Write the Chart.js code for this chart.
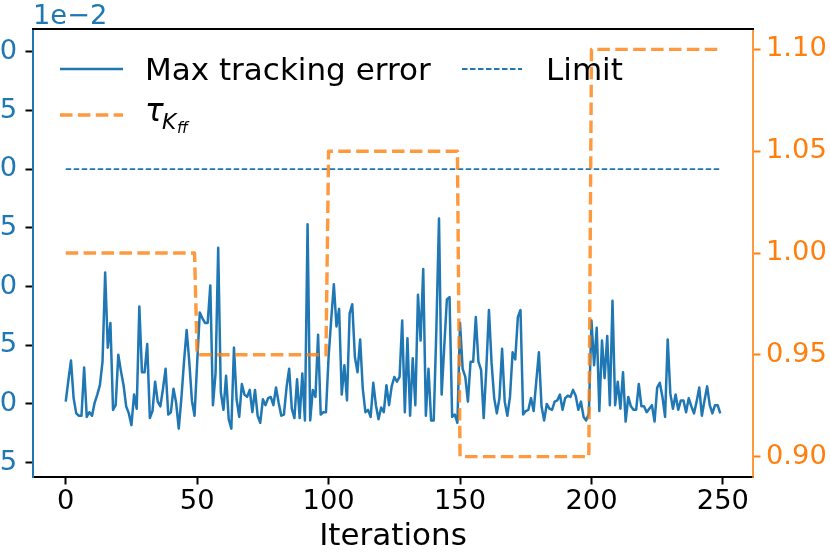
<!DOCTYPE html>
<html>
<head>
<meta charset="utf-8">
<script src="https://cdn.jsdelivr.net/npm/chart.js@4/dist/chart.umd.min.js"></script>
<style>
  html, body { margin: 0; padding: 0; background: #fff; overflow: hidden; }
  #wrap { position: absolute; left: -40px; top: 0; width: 870px; height: 554px; }
</style>
</head>
<body>
<div id="wrap"><canvas id="grafico"></canvas></div>
<script>
// Max tracking error, en unidades de 1e-2 (una muestra por iteración, 0..249)
const maxError = [
  0.02, 0.20, 0.37, 0.05, -0.08, -0.10, -0.10, 0.31, -0.11, -0.07,
  -0.10, 0.01, 0.08, 0.16, 0.36, 1.12, 0.48, 0.69, -0.05, -0.01,
  0.42, 0.28, 0.16, -0.02, -0.08, -0.18, 0.08, -0.04, 0.83, 0.27,
  0.27, 0.51, -0.12, -0.06, 0.19, 0.02, -0.02, 0.13, 0.30, -0.09,
  -0.07, 0.13, 0.01, -0.21, 0.05, 0.36, 0.63, 0.36, 0.03, -0.10,
  0.35, 0.78, 0.73, 0.69, 0.69, 1.01, -0.01, 0.26, 1.33, 0.10,
  -0.05, 0.24, -0.13, -0.21, 0.48, 0.04, -0.11, 0.17, 0.08, 0.06,
  0.12, -0.07, 0.12, -0.10, -0.16, 0.04, -0.01, 0.05, 0.06, -0.01,
  0.14, 0.01, -0.10, -0.09, 0.14, 0.30, -0.04, -0.12, 0.21, -0.12,
  0.26, -0.14, 1.53, -0.14, 0.12, 0.06, 0.59, -0.09, -0.07, -0.07,
  0.40, 0.72, 1.02, 0.66, 0.81, 0.08, 0.33, 0.03, 0.77, 0.85,
  0.40, 0.27, 0.55, 0.13, -0.07, -0.05, -0.11, 0.18, -0.01, -0.13,
  -0.03, -0.07, 0.16, -0.01, 0.15, 0.23, 0.19, 0.23, 0.71, -0.07,
  0.56, -0.10, 0.39, -0.01, 0.93, 0.54, 1.15, -0.10, 0.30, -0.14,
  -0.14, 0.64, 1.58, 0.08, 0.49, 0.89, 0.91, -0.11, -0.09, -0.16,
  0.69, 0.30, 0.23, 0.02, 0.36, 0.36, 0.74, 0.36, 0.29, -0.12,
  0.30, 0.80, 0.35, 0.05, -0.08, 0.05, 0.47, 0.02, -0.10, 0.06,
  0.44, 0.38, 0.74, 0.80, -0.09, -0.06, -0.05, 0.05, -0.06, 0.19,
  0.44, -0.02, -0.14, 0.00, -0.04, -0.05, 0.02, 0.03, 0.08, -0.05,
  0.05, 0.07, 0.06, 0.12, 0.07, -0.05, 0.02, -0.11, -0.14, -0.08,
  0.71, 0.33, 0.65, -0.06, 0.54, 0.22, 0.58, -0.01, 0.88, -0.01,
  0.19, -0.04, 0.27, -0.15, 0.06, -0.02, -0.05, -0.05, 0.17, -0.02,
  -0.02, -0.07, -0.04, -0.01, -0.15, 0.14, 0.18, 0.06, -0.11, 0.55,
  0.09, -0.04, 0.08, -0.05, 0.03, 0.03, -0.07, 0.05, -0.02, -0.08,
  0.02, 0.14, -0.10, 0.03, 0.15, -0.01, -0.08, -0.01, -0.01, -0.08
];
const limitIter = [0, 249];
const limitValues = [2.0, 2.0];
const tauIter = [0, 49, 50, 99, 100, 149, 150, 199, 200, 249];
const tauValues = [1.00, 1.00, 0.95, 0.95, 1.05, 1.05, 0.90, 0.90, 1.10, 1.10];

const xTicks = [0, 50, 100, 150, 200, 250];
const leftTicks = [-0.5, 0, 0.5, 1.0, 1.5, 2.0, 2.5, 3.0];
const rightTicks = [0.90, 0.95, 1.00, 1.05, 1.10];

const AZUL = '#1f77b4';
const NARANJA = '#ff7f0e';
const NARANJA_LINEA = 'rgba(255,127,14,0.8)';
const FUENTE = '"DejaVu Sans"';
const TAM_TICK = 27.3;
const TAM_TEXTO = 31;
const OFF = 40; // el lienzo empieza 40px fuera de la página

const errorPts = maxError.map((v, i) => ({ x: i, y: v }));
const limitPts = limitIter.map((x, i) => ({ x, y: limitValues[i] }));
const tauPts = tauIter.map((x, i) => ({ x, y: tauValues[i] }));

const fijarTicks = lista => scale => { scale.ticks = lista.map(v => ({ value: v })); };

const extras = {
  id: 'extras',
  afterDraw(chart) {
    const ctx = chart.ctx;
    const a = chart.chartArea;
    ctx.save();
    // borde superior
    ctx.strokeStyle = '#000';
    ctx.lineWidth = 2;
    ctx.beginPath();
    ctx.moveTo(a.left - 1, a.top);
    ctx.lineTo(a.right + 1, a.top);
    ctx.stroke();

    // texto del exponente
    ctx.fillStyle = AZUL;
    ctx.font = TAM_TICK + 'px ' + FUENTE;
    ctx.textBaseline = 'alphabetic';
    ctx.textAlign = 'left';
    ctx.fillText('1e\u22122', 33 + OFF, 23.5);

    // leyenda
    ctx.strokeStyle = AZUL;
    ctx.lineWidth = 2.5;
    ctx.setLineDash([]);
    ctx.beginPath();
    ctx.moveTo(60 + OFF, 69); ctx.lineTo(123 + OFF, 69);
    ctx.stroke();

    ctx.lineWidth = 1.8;
    ctx.setLineDash([5.5, 2.5]);
    ctx.beginPath();
    ctx.moveTo(462 + OFF, 69); ctx.lineTo(522 + OFF, 69);
    ctx.stroke();

    ctx.strokeStyle = NARANJA_LINEA;
    ctx.lineWidth = 3.4;
    ctx.setLineDash([12.5, 5.4]);
    ctx.beginPath();
    ctx.moveTo(60 + OFF, 115); ctx.lineTo(123 + OFF, 115);
    ctx.stroke();
    ctx.setLineDash([]);

    ctx.fillStyle = '#000';
    ctx.font = TAM_TEXTO + 'px ' + FUENTE;
    ctx.fillText('Max tracking error', 145 + OFF, 79.5);
    ctx.fillText('Limit', 546 + OFF, 79.5);

    ctx.font = 'italic ' + TAM_TEXTO + 'px ' + FUENTE;
    ctx.fillText('\u03c4', 145 + OFF, 120.5);
    ctx.font = 'italic 21.7px ' + FUENTE;
    ctx.fillText('K', 162 + OFF, 128.5);
    ctx.font = 'italic 15.2px ' + FUENTE;
    ctx.fillText('ff', 177 + OFF, 132.5);
    ctx.restore();
  }
};

const ctx = document.getElementById('grafico').getContext('2d');
new Chart(ctx, {
  type: 'line',
  data: {
    datasets: [
      {
        label: 'tau',
        data: tauPts,
        yAxisID: 'y2',
        borderColor: NARANJA_LINEA,
        borderWidth: 3.4,
        borderDash: [12.5, 5.4],
        borderJoinStyle: 'round',
        pointRadius: 0,
        tension: 0,
        order: 0
      },
      {
        label: 'Max tracking error',
        data: errorPts,
        yAxisID: 'y',
        borderColor: AZUL,
        borderWidth: 2.5,
        borderJoinStyle: 'round',
        pointRadius: 0,
        tension: 0,
        order: 1
      },
      {
        label: 'Limit',
        data: limitPts,
        yAxisID: 'y',
        borderColor: AZUL,
        borderWidth: 1.8,
        borderDash: [5.5, 2.5],
        pointRadius: 0,
        order: 2
      }
    ]
  },
  options: {
    responsive: true,
    maintainAspectRatio: false,
    animation: false,
    layout: { padding: { top: 29, left: 0, right: 0, bottom: 0 } },
    plugins: { legend: { display: false }, tooltip: { enabled: false } },
    scales: {
      x: {
        type: 'linear',
        min: -12.45,
        max: 261.45,
        afterBuildTicks: fijarTicks(xTicks),
        afterFit: s => { s.height = 77; },
        border: { color: '#000', width: 2 },
        grid: { drawOnChartArea: false, tickLength: 7.5, tickColor: '#000', tickWidth: 2 },
        ticks: { color: '#000', padding: 1.3, maxRotation: 0, font: { family: FUENTE, size: TAM_TICK } },
        title: {
          display: true, text: 'Iterations', color: '#000',
          font: { family: FUENTE, size: TAM_TEXTO, lineHeight: 1 }, padding: { top: 0, bottom: 1.8 }
        }
      },
      y: {
        position: 'left',
        min: -0.622,
        max: 3.194,
        afterBuildTicks: fijarTicks(leftTicks),
        afterFit: s => { s.width = 73; },
        border: { color: AZUL, width: 2 },
        grid: { drawOnChartArea: false, tickLength: 7.5, tickColor: '#000', tickWidth: 2 },
        ticks: {
          color: AZUL, padding: 8.5, font: { family: FUENTE, size: TAM_TICK },
          callback: v => (v < 0 ? '\u2212' : '') + Math.abs(v).toFixed(1)
        }
      },
      y2: {
        position: 'right',
        min: 0.89,
        max: 1.11,
        afterBuildTicks: fijarTicks(rightTicks),
        afterFit: s => { s.width = 77; },
        border: { color: NARANJA_LINEA, width: 2 },
        grid: { drawOnChartArea: false, tickLength: 7.5, tickColor: NARANJA, tickWidth: 2 },
        ticks: {
          color: NARANJA, padding: 5.5, font: { family: FUENTE, size: TAM_TICK },
          callback: v => v.toFixed(2)
        }
      }
    }
  },
  plugins: [extras]
});
</script>
</body>
</html>
